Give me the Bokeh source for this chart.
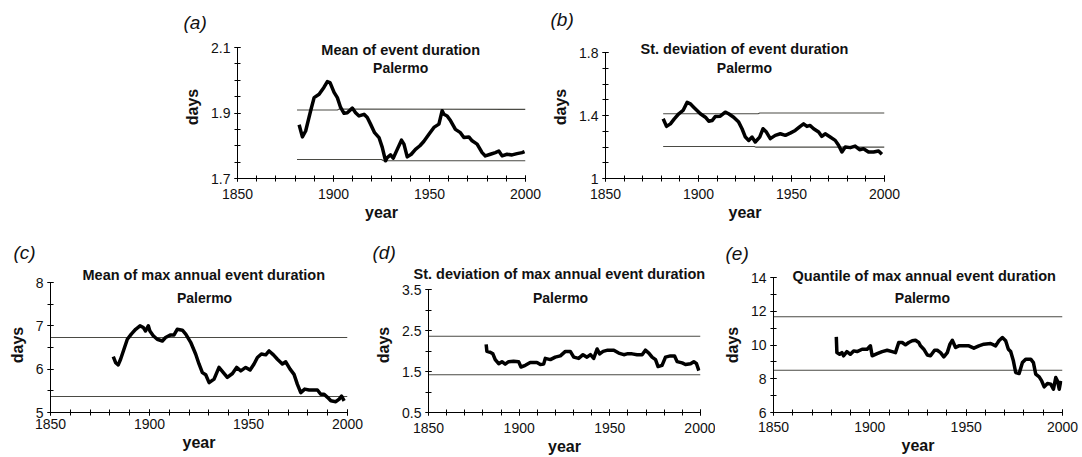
from bokeh.plotting import figure
from bokeh.layouts import column, row, Spacer
from bokeh.models import Range1d, FixedTicker, Label, Title
from bokeh.embed import file_html
from bokeh.resources import INLINE

FONT = "Liberation Sans"

# shared x axis
X_TICKS = [1850, 1900, 1950, 2000]
X_MINOR = [1850, 1860, 1870, 1880, 1890, 1900, 1910, 1920, 1930, 1940,
           1950, 1960, 1970, 1980, 1990, 2000]

# (a) mean of event duration
YEARS_A = [1882.1, 1883.8, 1885.5, 1888.1, 1889.9, 1892.5, 1895.0, 1896.8, 1898.2,
           1900.3, 1902.0, 1903.7, 1905.5, 1907.2, 1909.8, 1911.5, 1913.3, 1915.9,
           1917.6, 1919.3, 1921.4, 1923.7, 1925.4, 1927.1, 1928.0, 1929.7, 1931.1,
           1933.2, 1935.4, 1936.7, 1938.4, 1940.5, 1942.7, 1945.0, 1947.0, 1949.7,
           1952.3, 1954.9, 1956.6, 1957.5, 1959.2, 1961.0, 1963.5, 1966.1, 1967.9,
           1970.5, 1972.2, 1974.8, 1977.4, 1979.1, 1981.7, 1984.3, 1986.1, 1987.8,
           1990.4, 1993.0, 1995.6, 1998.2, 1999.5]
MEAN_A = [1.864, 1.827, 1.845, 1.907, 1.947, 1.957, 1.978, 1.996, 1.993,
          1.963, 1.947, 1.917, 1.899, 1.901, 1.915, 1.901, 1.891, 1.896,
          1.886, 1.866, 1.840, 1.825, 1.795, 1.754, 1.764, 1.772, 1.762,
          1.789, 1.817, 1.805, 1.766, 1.774, 1.789, 1.800, 1.813, 1.835,
          1.856, 1.866, 1.907, 1.896, 1.891, 1.876, 1.850, 1.840, 1.825,
          1.827, 1.815, 1.805, 1.779, 1.769, 1.774, 1.779, 1.784, 1.769,
          1.774, 1.772, 1.776, 1.779, 1.782]
UPPER_A_YEARS = [1881, 1902, 1903, 2000]
UPPER_A = [1.909, 1.909, 1.912, 1.911]
LOWER_A_YEARS = [1881, 1925, 1926, 2000]
LOWER_A = [1.758, 1.758, 1.754, 1.754]
Y_TICKS_A = [1.7, 1.9, 2.1]
Y_LABELS_A = ["1.7", "1.9", "2.1"]
Y_MINOR_A = [1.7, 1.75, 1.8, 1.85, 1.9, 1.95, 2.0, 2.05, 2.1]

# (b) standard deviation of event duration
YEARS_B = [1881.0, 1882.8, 1884.9, 1887.0, 1889.4, 1891.7, 1893.9, 1895.6, 1897.4,
           1899.2, 1901.0, 1903.7, 1905.5, 1907.3, 1909.1, 1911.7, 1914.4, 1916.2,
           1918.9, 1921.6, 1923.4, 1925.2, 1927.0, 1928.8, 1930.5, 1932.9, 1934.7,
           1936.5, 1938.6, 1941.3, 1944.0, 1946.7, 1949.3, 1952.0, 1954.7, 1956.5,
           1958.3, 1960.0, 1961.9, 1964.6, 1966.3, 1968.1, 1970.8, 1973.5, 1975.3,
           1977.1, 1978.9, 1981.6, 1984.2, 1986.6, 1988.7, 1991.4, 1994.1, 1996.8,
           1998.6]
SD_B = [1.379, 1.331, 1.347, 1.379, 1.411, 1.432, 1.484, 1.474, 1.453,
        1.432, 1.411, 1.389, 1.364, 1.368, 1.394, 1.396, 1.421, 1.411,
        1.389, 1.358, 1.316, 1.263, 1.242, 1.263, 1.232, 1.263, 1.316,
        1.295, 1.253, 1.274, 1.284, 1.274, 1.288, 1.305, 1.331, 1.347,
        1.331, 1.337, 1.316, 1.295, 1.267, 1.284, 1.263, 1.242, 1.211,
        1.168, 1.200, 1.196, 1.206, 1.183, 1.189, 1.168, 1.168, 1.175,
        1.154]
UPPER_B_YEARS = [1881, 1932, 1933, 2000]
UPPER_B = [1.411, 1.411, 1.416, 1.416]
LOWER_B_YEARS = [1881, 1930, 1931, 2000]
LOWER_B = [1.203, 1.203, 1.199, 1.199]
Y_TICKS_B = [1.0, 1.4, 1.8]
Y_LABELS_B = ["1", "1.4", "1.8"]
Y_MINOR_B = [1.0, 1.1, 1.2, 1.3, 1.4, 1.5, 1.6, 1.7, 1.8]

# (c) mean of max annual event duration
YEARS_C = [1881.7, 1882.9, 1884.2, 1885.4, 1887.1, 1888.8, 1890.8, 1893.0, 1895.2,
           1896.9, 1898.0, 1899.4, 1900.2, 1901.9, 1903.9, 1906.5, 1908.1, 1910.7,
           1912.4, 1914.0, 1916.6, 1918.3, 1920.8, 1923.3, 1925.0, 1926.7, 1928.4,
           1930.1, 1932.6, 1935.1, 1937.3, 1939.3, 1941.9, 1944.0, 1946.1, 1948.6,
           1950.8, 1952.8, 1954.5, 1956.5, 1958.7, 1960.4, 1962.6, 1964.6, 1967.1,
           1968.8, 1971.0, 1973.0, 1974.7, 1976.4, 1978.4, 1980.6, 1983.1, 1984.8,
           1986.5, 1988.2, 1989.9, 1991.6, 1994.1, 1995.8, 1997.0, 1998.3]
MEAN_C = [6.29, 6.15, 6.10, 6.23, 6.46, 6.69, 6.81, 6.92, 7.00,
          6.96, 6.88, 7.00, 6.88, 6.77, 6.69, 6.65, 6.73, 6.79,
          6.79, 6.92, 6.90, 6.81, 6.62, 6.35, 6.12, 5.92, 5.87,
          5.69, 5.77, 6.04, 5.92, 5.81, 5.90, 6.04, 5.96, 6.04,
          5.98, 6.12, 6.27, 6.35, 6.33, 6.42, 6.33, 6.23, 6.12,
          6.17, 6.00, 5.88, 5.65, 5.46, 5.54, 5.52, 5.52, 5.52,
          5.42, 5.42, 5.35, 5.27, 5.25, 5.31, 5.38, 5.27]
BAND_C_YEARS = [1850, 2000]
UPPER_C = [6.73, 6.73]
LOWER_C = [5.37, 5.37]
Y_TICKS_C = [5, 6, 7, 8]
Y_LABELS_C = ["5", "6", "7", "8"]
Y_MINOR_C = [5, 5.5, 6, 6.5, 7, 7.5, 8]

# (d) standard deviation of max annual event duration
YEARS_D = [1881.8, 1882.2, 1884.0, 1885.5, 1886.8, 1888.7, 1890.5, 1892.3, 1894.2,
           1896.9, 1899.7, 1901.0, 1903.4, 1906.1, 1909.8, 1911.7, 1913.5, 1914.4,
           1917.2, 1919.9, 1922.7, 1925.5, 1928.2, 1930.1, 1932.8, 1935.2, 1937.4,
           1939.3, 1941.1, 1943.0, 1944.4, 1946.3, 1948.8, 1952.2, 1954.9, 1957.7,
           1959.5, 1962.3, 1965.0, 1967.8, 1969.6, 1971.5, 1973.3, 1975.2, 1976.6,
           1978.8, 1980.7, 1983.4, 1985.7, 1987.1, 1989.9, 1991.7, 1994.5, 1996.3,
           1997.8, 1999.1]
SD_D = [2.16, 1.99, 1.97, 1.93, 1.79, 1.69, 1.74, 1.68, 1.74,
        1.75, 1.74, 1.61, 1.65, 1.72, 1.72, 1.67, 1.68, 1.82,
        1.79, 1.85, 1.88, 1.99, 1.99, 1.85, 1.82, 1.91, 1.85,
        1.91, 1.82, 2.05, 1.93, 1.99, 2.02, 2.02, 1.95, 1.91,
        1.93, 1.93, 1.91, 1.91, 2.02, 1.95, 1.85, 1.79, 1.62,
        1.65, 1.85, 1.88, 1.88, 1.74, 1.71, 1.67, 1.69, 1.74,
        1.69, 1.52]
BAND_D_YEARS = [1850, 2000]
UPPER_D = [2.36, 2.36]
LOWER_D = [1.42, 1.42]
Y_TICKS_D = [0.5, 1.5, 2.5, 3.5]
Y_LABELS_D = ["0.5", "1.5", "2.5", "3.5"]
Y_MINOR_D = [0.5, 1.0, 1.5, 2.0, 2.5, 3.0, 3.5]

# (e) quantile of max annual event duration
YEARS_E = [1882.6, 1882.9, 1884.3, 1885.5, 1886.4, 1888.1, 1889.9, 1891.6, 1893.4,
           1896.0, 1898.6, 1900.3, 1901.2, 1903.8, 1906.4, 1909.0, 1911.6, 1913.3,
           1915.0, 1916.8, 1918.5, 1920.2, 1922.0, 1923.7, 1925.4, 1926.3, 1928.0,
           1929.8, 1931.5, 1933.6, 1935.0, 1936.7, 1938.4, 1940.2, 1941.6, 1942.8,
           1944.5, 1946.2, 1948.8, 1951.4, 1954.0, 1956.6, 1959.2, 1962.7, 1965.3,
           1967.0, 1968.8, 1970.5, 1971.9, 1973.1, 1974.5, 1975.7, 1977.5, 1979.2,
           1980.9, 1983.5, 1984.9, 1986.1, 1987.9, 1989.2, 1990.5, 1992.2, 1993.9,
           1995.3, 1996.5, 1997.4, 1998.3, 1999.1]
Q_E = [10.48, 9.55, 9.45, 9.55, 9.36, 9.61, 9.45, 9.65, 9.61,
       9.75, 9.75, 9.95, 9.36, 9.49, 9.61, 9.69, 9.61, 9.55,
       10.15, 10.15, 10.01, 10.15, 10.25, 10.28, 10.15, 9.95, 9.75,
       9.41, 9.36, 9.69, 9.69, 9.55, 9.30, 9.55, 10.05, 10.28,
       9.85, 9.95, 9.95, 9.95, 9.81, 9.95, 10.05, 10.09, 9.95,
       10.25, 10.44, 10.25, 9.75, 9.61, 9.06, 8.37, 8.31, 8.96,
       9.16, 9.16, 8.96, 8.27, 8.11, 7.87, 7.52, 7.72, 7.68,
       7.38, 8.07, 7.87, 7.38, 7.87]
BAND_E_YEARS = [1850, 2000]
UPPER_E = [11.67, 11.67]
LOWER_E = [8.50, 8.50]
Y_TICKS_E = [6, 8, 10, 12, 14]
Y_LABELS_E = ["6", "8", "10", "12", "14"]
Y_MINOR_E = [6, 7, 8, 9, 10, 11, 12, 13, 14]

HEAD_SIZE = "14.5px"


def set_text(t, text, size, style, offset, standoff):
    t.text = text
    t.align = "left"
    t.offset = offset
    try:
        t.standoff = standoff
    except ValueError:
        t.standoff = 0
    t.text_font = FONT
    t.text_font_size = size
    t.text_font_style = style
    t.text_color = "#111111"


def panel(tag, title, years, values, bands, y_lo, y_hi, y_ticks, y_labels, y_minor,
          size, frame_lr, frame_tb, axis_tb, tag_offset, tag_standoff,
          head_x, head_offsets, x_standoff, head_left=None, head_standoff=0):
    """One panel.  frame_lr, frame_tb and axis_tb are pixel offsets inside the
    figure.  Panels in one row share their top/bottom borders, so each frame
    reaches past its own axis span and the y axis is bounded to the data span.
    With head_left set, the first heading line sits in the top border, left
    aligned head_left px from the y axis (so it may run past the axis)."""
    w, h = size
    left, frame_w = frame_lr
    frame_top, frame_bottom = frame_tb
    axis_top, axis_bottom = axis_tb
    ppu = (axis_bottom - axis_top) / (y_hi - y_lo)
    y_start = y_lo - (frame_bottom - axis_bottom) / ppu
    y_end = y_hi + (axis_top - frame_top) / ppu

    p = figure(width=w, height=h, output_backend="svg", toolbar_location=None,
               x_range=Range1d(1850, 2000), y_range=Range1d(y_start, y_end),
               min_border_left=left, min_border_right=w - left - frame_w,
               min_border_top=frame_top, min_border_bottom=h - frame_bottom)
    p.outline_line_color = None
    p.grid.visible = False
    p.background_fill_color = "white"
    p.border_fill_color = "white"

    # the figure's own title (outermost) holds the panel tag
    set_text(p.title, tag, "19px", "italic", tag_offset, tag_standoff)
    label_lines = list(zip(title, head_offsets))
    if head_left is not None:
        head = Title()
        set_text(head, title[0], HEAD_SIZE, "bold", head_left, head_standoff)
        p.add_layout(head, "above")
        label_lines = label_lines[1:]

    for xs, ys in bands:
        p.line(xs, ys, line_width=1.1, color="#4a4a44")
    p.line(years, values, line_width=3.5, color="black", line_join="round")

    for ax, ticks, minor in ((p.xaxis[0], X_TICKS, X_MINOR), (p.yaxis[0], y_ticks, y_minor)):
        ax.ticker = FixedTicker(ticks=ticks, minor_ticks=minor)
        ax.axis_line_color = "black"
        ax.axis_line_width = 1
        ax.major_tick_in = 3
        ax.major_tick_out = 3
        ax.minor_tick_in = 3
        ax.minor_tick_out = 3
        ax.major_tick_line_color = "black"
        ax.minor_tick_line_color = "black"
        ax.major_label_text_font = FONT
        ax.major_label_text_font_size = "14px"
        ax.major_label_text_color = "#111111"
        ax.axis_label_text_font = FONT
        ax.axis_label_text_font_size = "16px"
        ax.axis_label_text_font_style = "bold"
        ax.axis_label_text_color = "#111111"

    p.xaxis.axis_label = "year"
    p.xaxis.major_label_standoff = x_standoff
    p.xaxis.axis_label_standoff = 2
    p.yaxis.axis_label = "days"
    p.yaxis.bounds = (y_lo, y_hi)
    p.yaxis.major_label_standoff = 4
    p.yaxis.axis_label_standoff = 7
    p.yaxis.major_label_overrides = {t: s for t, s in zip(y_ticks, y_labels)}

    for line, dy in label_lines:
        first = line == title[0]
        p.add_layout(Label(x=head_x, y=y_hi, y_offset=dy, text=line,
                           text_font=FONT,
                           text_font_size=HEAD_SIZE if first else "14px",
                           text_font_style="bold", text_color="#111111",
                           text_align="center", text_baseline="alphabetic"))
    return p


# top row: shared frame top 35 / bottom 178
pa = panel("(a)", ["Mean of event duration", "Palermo"], YEARS_A, MEAN_A,
           [(UPPER_A_YEARS, UPPER_A), (LOWER_A_YEARS, LOWER_A)],
           1.7, 2.1, Y_TICKS_A, Y_LABELS_A, Y_MINOR_A,
           (395, 230), (87, 288), (35, 178), (47, 178), -54, 6,
           1935, (-2, -20), 7)
pb = panel("(b)", ["St. deviation of event duration", "Palermo"], YEARS_B, SD_B,
           [(UPPER_B_YEARS, UPPER_B), (LOWER_B_YEARS, LOWER_B)],
           1.0, 1.8, Y_TICKS_B, Y_LABELS_B, Y_MINOR_B,
           (537, 230), (60, 279), (35, 178), (52, 178), -55, 11,
           1924.7, (4, -15), 7)

# bottom row: shared frame top 47 / bottom 182 (page y 277 / 412)
pc = panel("(c)", ["Mean of max annual event duration", "Palermo"], YEARS_C, MEAN_C,
           [(BAND_C_YEARS, UPPER_C), (BAND_C_YEARS, LOWER_C)],
           5, 8, Y_TICKS_C, Y_LABELS_C, Y_MINOR_C,
           (365, 227), (50, 297), (47, 182), (52, 182), -37, 14,
           1927.8, (0, -15), 3, head_left=32, head_standoff=-10)
pd_ = panel("(d)", ["St. deviation of max annual event duration", "Palermo"], YEARS_D, SD_D,
            [(BAND_D_YEARS, UPPER_D), (BAND_D_YEARS, LOWER_D)],
            0.5, 3.5, Y_TICKS_D, Y_LABELS_D, Y_MINOR_D,
            (350, 227), (63, 272), (47, 182), (59, 182), -56, 10,
            1922.8, (0, -8), 7, head_left=-15, head_standoff=-8)
pe = panel("(e)", ["Quantile of max annual event duration", "Palermo"], YEARS_E, Q_E,
           [(BAND_E_YEARS, UPPER_E), (BAND_E_YEARS, LOWER_E)],
           6, 14, Y_TICKS_E, Y_LABELS_E, Y_MINOR_E,
           (367, 227), (58, 289), (47, 182), (47, 182), -48, 16,
           1927.3, (0, -20), 6, head_left=19, head_standoff=-12)

layout = column(row(Spacer(width=150, height=230), pa, pb), row(pc, pd_, pe))

open("out.html", "w").write(file_html(layout, INLINE))
